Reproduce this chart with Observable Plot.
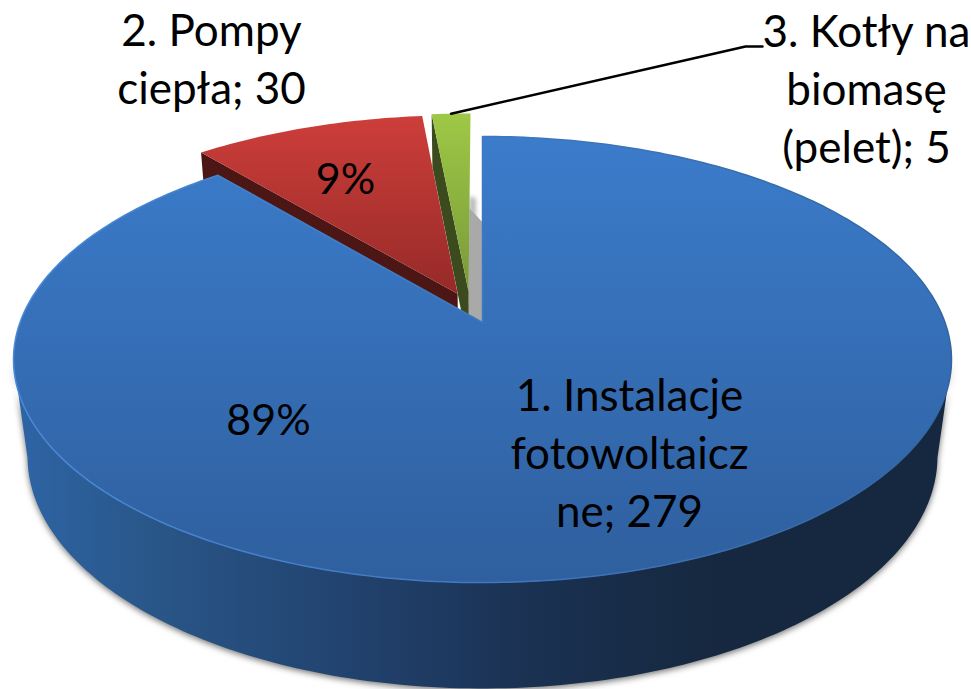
<!DOCTYPE html>
<html>
<head>
<meta charset="utf-8">
<script src="https://cdn.jsdelivr.net/npm/d3@7"></script>
<script src="https://cdn.jsdelivr.net/npm/@observablehq/plot@0.6"></script>
<style>html,body{margin:0;padding:0;background:#fff}svg{display:block}</style>
</head>
<body>
<div id="chart"></div>
<script>
// Data
const categories = ["1. Instalacje fotowoltaiczne", "2. Pompy ciepła", "3. Kotły na biomasę (pelet)"];
const values = [279, 30, 5];
const percentLabels = ["89%", "9%", ""];
const wrappedNames = ["1. Instalacje\nfotowoltaicz\nne", "2. Pompy\nciepła", "3. Kotły na\nbiomasę\n(pelet)"];

// Layout of the 3D pie (a perspective view of a flat disc)
const W = 971, H = 689;
const view = {cx: 482, cy: 322, A: 462.5, B: 216.9, C: 99.3, k: 0.166, m: 0.03};
const explode = [{u: 0, v: 0}, {u: -0.055, v: -0.136}, {u: -0.0309, v: -0.147}];
const nameAt = [[629, 449.5], [211, 56], [866, 86]];
const pctAt = [[268, 421], [345, 180]];
const leaderEnd = [[745, 46], [762, 46]];
const innerWallDepth = 0.6;

function project(deg, r, off = {u: 0, v: 0}, h = 0) {
  const t = deg * Math.PI / 180;
  const u = r * Math.sin(t) + off.u, v = -r * Math.cos(t) + off.v;
  const den = 1 - view.k * v + view.m * h;
  return {x: view.cx + view.A * u / den, y: view.cy + (view.B * v + view.C * h) / den};
}
function arc(a0, a1, off, h = 0) {
  const n = Math.max(2, Math.ceil(Math.abs(a1 - a0)));
  return d3.range(n + 1).map(i => project(a0 + (a1 - a0) * i / n, 1, off, h));
}

// Slice angles, clockwise from 12 o'clock
const total = d3.sum(values);
let acc = 0;
const slices = values.map((v, i) => {
  const a0 = acc / total * 360; acc += v;
  return {a0, a1: acc / total * 360, off: explode[i]};
});
const [blue, red, green] = slices;

const topFace = s => [project(s.a0, 0, s.off), ...arc(s.a0, s.a1, s.off), project(s.a0, 0, s.off)];
const face = (pts, o) => Plot.line(pts, {x: "x", y: "y", stroke: "none", curve: "linear", ...o});
const wall = s => [project(s.a0, 1, s.off), project(s.a0, 0, s.off), project(s.a0, 0, s.off, innerWallDepth), project(s.a0, 1, s.off, innerWallDepth)];

const blueSide = [...arc(99.6, 260.4, blue.off), ...arc(260.4, 99.6, blue.off, 1)];
const shadowMain = [project(0, 0), project(0, 0.5), project(0, 0.43, green.off), project(0, -0.147, green.off)];
const shadowSoft = [project(0, 0.1, {u: -0.016, v: 0}), project(0, 0.63, {u: -0.016, v: 0}), project(0, 0.5, green.off), project(0, 0, green.off)];
const leader = [project((green.a0 + green.a1) / 2, 1, green.off), ...leaderEnd.map(([x, y]) => ({x, y}))];

const nameLabels = wrappedNames.map((n, i) => ({x: nameAt[i][0], y: nameAt[i][1], text: `${n}; ${values[i]}`}));
const pctLabels = percentLabels.filter(Boolean).map((p, i) => ({x: pctAt[i][0], y: pctAt[i][1], text: p}));

const defs = () => d3.create("svg:defs").html(`
  <linearGradient id="blueTop" x1="0" y1="0" x2="0" y2="1">
    <stop offset="0" stop-color="#3b7ccb"/><stop offset="1" stop-color="#2f5f9e"/>
  </linearGradient>
  <linearGradient id="blueRim" x1="0" y1="0" x2="1" y2="0">
    <stop offset="0" stop-color="#4a8ad8"/><stop offset="0.5" stop-color="#3f78c0"/><stop offset="1" stop-color="#33659f"/>
  </linearGradient>
  <linearGradient id="blueSide" x1="0" y1="0" x2="1" y2="0">
    <stop offset="0" stop-color="#2e65a6"/><stop offset="0.15" stop-color="#295688"/>
    <stop offset="0.35" stop-color="#22436f"/><stop offset="0.55" stop-color="#1a3152"/>
    <stop offset="0.75" stop-color="#16283f"/><stop offset="1" stop-color="#152840"/>
  </linearGradient>
  <linearGradient id="redTop" x1="0" y1="0" x2="0" y2="1">
    <stop offset="0" stop-color="#cd3e3a"/><stop offset="1" stop-color="#962a28"/>
  </linearGradient>
  <linearGradient id="greenTop" x1="0" y1="0" x2="0" y2="1">
    <stop offset="0" stop-color="#9fc846"/><stop offset="1" stop-color="#789a38"/>
  </linearGradient>`).node();

const textStyle = {x: "x", y: "y", text: "text", fontFamily: "Lato, Carlito, sans-serif", fill: "#000", textAnchor: "middle", lineAnchor: "middle"};

const chart = Plot.plot({
  width: W, height: H, margin: 0,
  x: {domain: [0, W], range: [0, W], axis: null},
  y: {domain: [0, H], range: [0, H], axis: null},
  style: {background: "#fff", overflow: "visible"},
  marks: [
    defs,
    face(shadowSoft, {fill: "#b5b5b5", imageFilter: "blur(2px)"}),
    face(shadowMain, {fill: "#a9a9a9"}),
    face(wall(green), {fill: "#3c4b1e"}),
    face(topFace(green), {fill: "url(#greenTop)"}),
    face(wall(red), {fill: "#4c1614"}),
    face(topFace(red), {fill: "url(#redTop)"}),
    face(blueSide, {fill: "url(#blueSide)", imageFilter: "drop-shadow(0 2px 3px rgba(0,0,0,0.55))"}),
    face(topFace(blue), {fill: "url(#blueTop)", stroke: "url(#blueRim)", strokeWidth: 1.5}),
    Plot.line(leader, {x: "x", y: "y", stroke: "#000", strokeWidth: 2.5, curve: "linear"}),
    Plot.text(nameLabels, {...textStyle, fontSize: 44, lineHeight: 1.32}),
    Plot.text(pctLabels, {...textStyle, fontSize: 43})
  ]
});
document.getElementById("chart").append(chart);
</script>
</body>
</html>
